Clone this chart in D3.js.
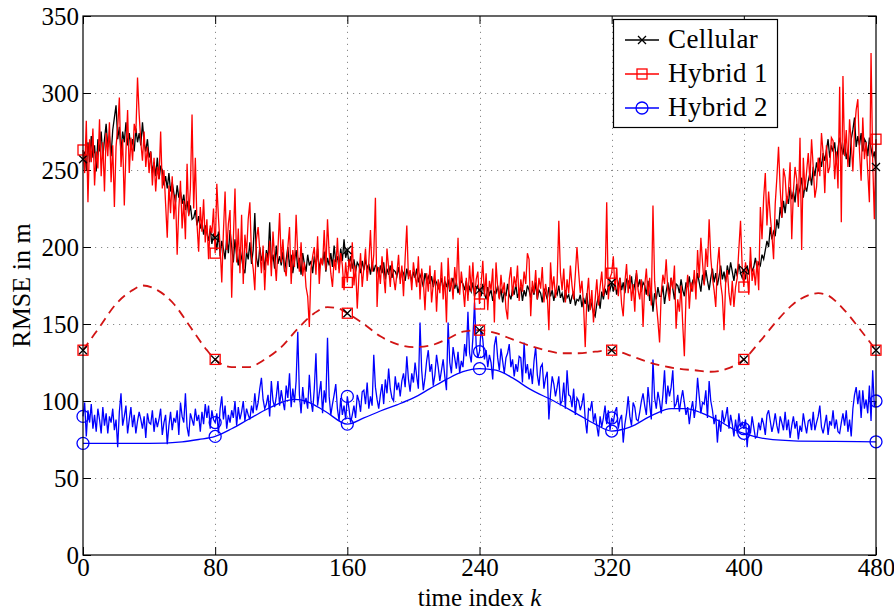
<!DOCTYPE html>
<html>
<head>
<meta charset="utf-8">
<script src="https://cdnjs.cloudflare.com/ajax/libs/d3/7.8.5/d3.min.js"></script>
<style>
	body { margin: 0; background: #fff; }
	svg text { fill: #000; }
</style>
</head>
<body>
<svg id="chart" width="894" height="610"></svg>
<script>

var kTicks = [0, 80, 160, 240, 320, 400, 480];
var yTicks = [0, 50, 100, 150, 200, 250, 300, 350];
var markerK = [0, 80, 160, 240, 320, 400, 480];

var seriesNames = ["Cellular", "Hybrid 1", "Hybrid 2"];

// RMSE per time index k = 0..480
var cellular = [
	257, 262, 250, 268, 255, 272, 258, 266, 249, 270,
	262, 275, 258, 270, 280, 265, 272, 259, 276, 284,
	292, 270, 278, 262, 275, 268, 281, 266, 274, 263,
	270, 262, 277, 268, 274, 266, 281, 268, 262, 270,
	258, 262, 248, 255, 246, 258, 244, 252, 250, 240,
	246, 238, 248, 236, 242, 235, 229, 240, 232, 236,
	228, 234, 224, 230, 221, 227, 218, 219, 224, 214,
	220, 212, 217, 208, 214, 209, 204, 212, 202, 208,
	206, 198, 210, 194, 204, 199, 192, 206, 196, 211,
	200, 190, 205, 195, 188, 199, 193, 186, 183, 197,
	192, 203, 189, 198, 222, 193, 187, 200, 191, 196,
	185, 198, 192, 216, 190, 195, 186, 201, 189, 194,
	188, 197, 184, 192, 200, 187, 195, 183, 191, 198,
	186, 193, 182, 196, 189, 184, 195, 188, 191, 183,
	194, 187, 199, 185, 192, 189, 197, 184, 193, 188,
	196, 187, 201, 190, 194, 186, 199, 191, 205, 193,
	198, 189, 194, 186, 192, 184, 190, 188, 183, 191,
	185, 192, 186, 189, 182, 190, 184, 188, 187, 181,
	188, 183, 190, 179, 186, 182, 188, 180, 185, 184,
	181, 187, 179, 185, 183, 178, 186, 181, 184, 177,
	184, 180, 186, 177, 182, 179, 174, 183, 178, 181,
	176, 181, 174, 179, 177, 173, 175, 180, 172, 178,
	174, 179, 171, 176, 180, 173, 177, 170, 175, 178,
	176, 172, 178, 169, 174, 171, 177, 168, 173, 175,
	172, 168, 176, 170, 166, 174, 169, 172, 165, 171,
	170, 175, 167, 173, 164, 171, 168, 176, 169, 166,
	173, 169, 176, 167, 171, 174, 165, 172, 168, 175,
	172, 167, 174, 169, 177, 166, 172, 170, 164, 173,
	170, 166, 174, 168, 172, 165, 171, 169, 175, 167,
	170, 164, 172, 167, 169, 163, 168, 171, 162, 166,
	165, 169, 161, 167, 163, 170, 158, 166, 162, 157,
	155, 163, 168, 160, 171, 166, 173, 169, 175, 172,
	177, 171, 178, 169, 175, 180, 172, 177, 170, 179,
	178, 173, 181, 170, 176, 183, 174, 179, 171, 177,
	175, 169, 178, 165, 172, 158, 170, 166, 174, 168,
	168, 175, 163, 171, 177, 169, 180, 173, 166, 176,
	175, 170, 179, 172, 168, 177, 174, 181, 171, 178,
	180, 174, 183, 177, 171, 182, 176, 185, 178, 172,
	180, 186, 177, 183, 175, 181, 188, 179, 184, 177,
	188, 182, 190, 184, 178, 186, 181, 189, 183, 180,
	185, 179, 188, 182, 191, 184, 187, 193, 186, 190,
	188, 195, 192, 198, 204, 200, 213, 205, 210, 207,
	218, 212, 226, 219, 230, 222, 233, 228, 239, 231,
	236, 229, 241, 234, 238, 245, 232, 240, 236, 243,
	248, 240, 252, 246, 255, 249, 258, 252, 261, 256,
	263, 270, 258, 266, 262, 268, 255, 264, 271, 265,
	260, 268, 257, 263, 252, 270, 276, 284, 265, 272,
	266, 274, 262, 270, 268, 259, 271, 264, 258, 262,
	252
];

var hybrid1 = [
	263, 248, 282, 229, 270, 255, 277, 240, 262, 251,
	283, 246, 268, 236, 274, 259, 281, 242, 266, 226,
	265, 278, 297, 252, 270, 227, 262, 289, 248, 271,
	256, 280, 274, 310, 286, 268, 256, 275, 252, 265,
	248, 262, 240, 258, 236, 252, 244, 275, 238, 250,
	228, 206, 240, 222, 246, 218, 234, 195, 225, 243,
	212, 230, 205, 254, 220, 238, 286, 225, 258, 215,
	197, 226, 210, 231, 203, 218, 192, 214, 209, 225,
	196, 241, 219, 200, 177, 210, 236, 198, 215, 224,
	167, 205, 238, 190, 212, 183, 221, 176, 208, 196,
	218, 229, 194, 186, 172, 205, 213, 198, 183, 201,
	172, 196, 188, 204, 181, 210, 192, 178, 199, 222,
	190, 205, 186, 181, 200, 213, 176, 198, 187, 221,
	195, 184, 203, 181, 190, 174, 168, 148, 186, 194,
	200, 182, 207, 176, 193, 188, 211, 185, 218, 196,
	183, 174, 192, 185, 206, 183, 196, 188, 172, 190,
	177, 192, 184, 203, 175, 188, 160, 181, 196, 174,
	186, 199, 178, 190, 211, 184, 195, 232, 161, 187,
	176, 194, 182, 170, 199, 186, 174, 191, 180, 172,
	183, 195, 176, 188, 168, 193, 214, 179, 185, 172,
	190, 181, 174, 194, 166, 186, 178, 159, 183, 171,
	188, 164, 176, 185, 158, 179, 170, 190, 166, 181,
	151, 193, 172, 180, 166, 187, 175, 206, 169, 184,
	174, 161, 180, 165, 188, 171, 190, 166, 179, 184,
	163, 176, 191, 168, 183, 159, 178, 172, 186, 151,
	190, 174, 166, 182, 170, 177, 160, 153, 179, 187,
	168, 181, 174, 188, 165, 179, 171, 184, 176, 196,
	192, 155, 178, 170, 185, 166, 180, 173, 187, 164,
	176, 169, 146, 190, 172, 181, 167, 177, 217, 183,
	172, 186, 164, 179, 170, 188, 175, 166, 182, 200,
	184, 170, 178, 162, 135, 168, 180, 159, 172, 151,
	166, 179, 162, 174, 184, 168, 176, 229, 166, 180,
	183, 194, 172, 186, 168, 180, 163, 155, 177, 189,
	170, 182, 165, 176, 158, 185, 172, 166, 179, 148,
	175, 186, 168, 180, 162, 227, 178, 164, 152, 138,
	170, 182, 176, 192, 172, 165, 180, 173, 188, 147,
	166, 158, 175, 150, 129, 168, 182, 160, 177, 171,
	185, 166, 198, 180, 206, 190, 175, 199, 187, 218,
	193, 180, 172, 161, 188, 200, 176, 168, 146, 177,
	185, 170, 162, 178, 161, 174, 180, 199, 217, 187,
	174, 190, 182, 169, 200, 178, 186, 175, 191, 172,
	226, 205, 232, 248, 214, 236, 220, 208, 192, 228,
	245, 265, 238, 219, 251, 245, 228, 236, 255, 205,
	236, 252, 244, 226, 271, 198, 258, 237, 249, 261,
	243, 270, 252, 232, 239, 258, 246, 274, 261, 235,
	266, 248, 252, 271, 269, 244, 262, 238, 304, 216,
	311, 259, 276, 252, 283, 268, 249, 276, 289, 296,
	262, 243, 284, 257, 268, 249, 229, 326, 256, 218,
	270
];

var hybrid2 = [
	90, 99, 77, 94, 86, 98, 82, 91, 80, 95,
	88, 79, 96, 84, 92, 79, 90, 86, 95, 81,
	88, 70, 93, 105, 84, 90, 97, 79, 88, 96,
	83, 91, 79, 87, 93, 88, 82, 90, 76, 92,
	86, 85, 94, 80, 89, 83, 88, 95, 78, 86,
	91, 72, 84, 93, 81, 89, 86, 94, 78, 99,
	90, 86, 105, 83, 77, 92, 88, 84, 95, 87,
	91, 80, 93, 85, 98, 89, 97, 82, 94, 88,
	86, 92, 79, 95, 103, 88, 97, 82, 91, 86,
	94, 89, 100, 84, 96, 88, 93, 100, 87, 95,
	91, 88, 97, 92, 105, 94, 99, 108, 115, 101,
	95, 98, 104, 90, 113, 100, 96, 103, 113, 97,
	107, 100, 94, 110, 102, 118, 96, 108, 99, 113,
	145, 104, 92, 109, 98, 102, 95, 117, 100, 93,
	108, 131, 97, 105, 113, 92, 107, 99, 141, 103,
	91, 98, 104, 111, 95, 87, 102, 91, 97, 88,
	103, 95, 86, 91, 97, 89, 104, 100, 93, 106,
	107, 98, 112, 95, 103, 97, 130, 109, 101, 95,
	104, 111, 98, 114, 105, 121, 108, 102, 100, 116,
	107, 112, 103, 113, 118, 109, 129, 114, 106, 118,
	112, 125, 116, 108, 151, 120, 107, 115, 126, 133,
	119, 124, 110, 117, 130, 122, 113, 120, 127, 116,
	107, 151, 125, 118, 135, 128, 121, 132, 118, 126,
	122, 137, 129, 158, 131, 125, 141, 164, 136, 128,
	132, 147, 140, 127, 133, 122, 130, 125, 114, 136,
	142, 128, 120, 134, 126, 118, 128, 131, 137, 122,
	127, 116, 124, 119, 129, 128, 112, 138, 118, 124,
	114, 121, 111, 126, 135, 117, 110, 122, 124, 108,
	115, 119, 88, 105, 116, 111, 103, 109, 116, 98,
	100, 112, 95, 120, 104, 103, 96, 108, 91, 102,
	100, 94, 98, 105, 88, 79, 95, 94, 100, 86,
	92, 84, 77, 90, 83, 89, 97, 85, 94, 81,
	89, 86, 93, 96, 82, 88, 91, 73, 85, 92,
	103, 90, 84, 99, 96, 88, 87, 93, 100, 105,
	97, 91, 109, 98, 88, 127, 102, 95, 106, 100,
	92, 104, 120, 98, 110, 103, 109, 120, 96, 98,
	104, 93, 101, 107, 99, 91, 96, 85, 94, 100,
	89, 97, 115, 103, 92, 99, 98, 107, 89, 113,
	100, 94, 85, 91, 73, 88, 80, 94, 86, 90,
	96, 82, 91, 85, 77, 88, 79, 92, 83, 86,
	82, 88, 70, 84, 79, 90, 83, 76, 77, 86,
	81, 89, 85, 78, 91, 94, 87, 80, 85, 92,
	84, 79, 90, 86, 81, 93, 81, 88, 76, 84,
	90, 82, 87, 75, 84, 80, 92, 85, 79, 87,
	88, 81, 93, 81, 86, 90, 97, 83, 79, 85,
	91, 78, 87, 84, 94, 82, 88, 80, 79, 86,
	92, 84, 94, 80, 88, 77, 95, 104, 109, 98,
	107, 89, 107, 95, 101, 92, 110, 87, 120, 96,
	100
];

// smooth bounds: dashed one (Cellular / Hybrid 1) and solid blue one (Hybrid 2)
var bound1K = [0, 10, 20, 30, 36, 45, 55, 65, 75, 80, 90, 100, 110, 120, 130, 140, 148, 155, 160, 170,
	180, 190, 200, 210, 220, 230, 240, 250, 260, 270, 280, 290, 300, 310, 320, 330, 340, 350, 360, 370,
	380, 390, 400, 410, 420, 430, 440, 445, 450, 460, 470, 480];
var bound1 = [133, 148, 163, 172, 175, 172, 163, 148, 133, 127, 122, 122, 127, 135, 147, 157, 161, 160, 157, 150,
	142, 137, 135, 136, 140, 145, 146, 144, 140, 136, 133, 131, 131, 132, 133, 130, 126, 123, 121, 120,
	119, 121, 127, 139, 152, 163, 169, 170, 169, 160, 147, 133];

var bound2K = [0, 20, 40, 60, 70, 80, 90, 100, 110, 120, 128, 136, 147, 160, 170, 180, 190, 200, 210, 220,
	230, 240, 250, 260, 270, 285, 300, 310, 320, 331, 345, 356, 365, 375, 385, 395, 400, 413, 433, 455, 480];
var bound2 = [72.5, 72.5, 72.5, 73.5, 75, 77, 82, 88, 94, 99, 101, 99.5, 93, 85, 89, 93.5, 97.5, 102, 108, 114,
	119, 121, 120, 115, 108, 100, 91, 85, 80.5, 83, 91, 95, 95, 92, 87, 81, 79, 75.5, 74, 73.8, 73.5];

var RED = "#ff0000", BLUE = "#0000ff", DRED = "#d21414";
var FONT = "'Liberation Serif', monospace";

function drawChart() {
	var svg = d3.select("#chart");
	var left = 83, right = 876, top = 16, bottom = 555;

	var x = d3.scaleLinear().domain([0, 480]).range([left, right]);
	var y = d3.scaleLinear().domain([0, 350]).range([bottom, top]);

	svg.append("rect").attr("width", 894).attr("height", 610).attr("fill", "#fff");

	// grid
	var grid = svg.append("g").attr("stroke", "#8a8a8a").attr("stroke-width", 1)
		.attr("stroke-dasharray", "1.2,4.8");
	grid.selectAll(".gx").data(kTicks.slice(1, -1)).enter().append("line")
		.attr("x1", function(d) { return Math.round(x(d)) + 0.5; })
		.attr("x2", function(d) { return Math.round(x(d)) + 0.5; })
		.attr("y1", bottom).attr("y2", top);
	grid.selectAll(".gy").data(yTicks.slice(1, -1)).enter().append("line")
		.attr("y1", function(d) { return Math.round(y(d)) + 0.5; })
		.attr("y2", function(d) { return Math.round(y(d)) + 0.5; })
		.attr("x1", left).attr("x2", right);

	// axes, ticks point inward like matlab
	var xb = d3.axisBottom(x).tickValues(kTicks).tickSizeInner(-8).tickSizeOuter(0).tickPadding(3);
	var xt = d3.axisTop(x).tickValues(kTicks).tickSizeInner(-8).tickSizeOuter(0).tickFormat("");
	var yl = d3.axisLeft(y).tickValues(yTicks).tickSizeInner(-8).tickSizeOuter(0).tickPadding(4);
	var yr = d3.axisRight(y).tickValues(yTicks).tickSizeInner(-8).tickSizeOuter(0).tickFormat("");

	function styleAxis(g) {
		g.select(".domain").remove();
		g.selectAll("line").attr("stroke", "#000");
		g.selectAll("text").style("font-family", FONT).style("font-size", "25px");
	}
	svg.append("g").attr("transform", "translate(0," + bottom + ")").call(xb).call(styleAxis);
	svg.append("g").attr("transform", "translate(0," + top + ")").call(xt).call(styleAxis);
	svg.append("g").attr("transform", "translate(" + left + ",0)").call(yl).call(styleAxis);
	svg.append("g").attr("transform", "translate(" + right + ",0)").call(yr).call(styleAxis);

	var line = d3.line()
		.x(function(d, i) { return x(i); })
		.y(function(d) { return y(d); });

	var plot = svg.append("g");
	plot.append("path").datum(cellular).attr("d", line)
		.attr("fill", "none").attr("stroke", "#000").attr("stroke-width", 1.3);
	plot.append("path").datum(hybrid1).attr("d", line)
		.attr("fill", "none").attr("stroke", RED).attr("stroke-width", 1.3);
	plot.append("path").datum(hybrid2).attr("d", line)
		.attr("fill", "none").attr("stroke", BLUE).attr("stroke-width", 1.3);

	var smooth = d3.line()
		.x(function(d) { return x(d[0]); })
		.y(function(d) { return y(d[1]); })
		.curve(d3.curveMonotoneX);

	var b1 = d3.zip(bound1K, bound1);
	var b2 = d3.zip(bound2K, bound2);
	plot.append("path").datum(b1).attr("d", smooth)
		.attr("fill", "none").attr("stroke", DRED).attr("stroke-width", 1.8)
		.attr("stroke-dasharray", "9,6");
	plot.append("path").datum(b2).attr("d", smooth)
		.attr("fill", "none").attr("stroke", BLUE).attr("stroke-width", 1.3);

	// markers
	function cross(g, cx, cy, color) {
		var s = 4;
		g.append("path")
			.attr("d", "M" + (cx - s) + "," + (cy - s) + "L" + (cx + s) + "," + (cy + s) +
				"M" + (cx - s) + "," + (cy + s) + "L" + (cx + s) + "," + (cy - s))
			.attr("stroke", color).attr("stroke-width", 1.3).attr("fill", "none");
	}
	function square(g, cx, cy, color) {
		g.append("rect").attr("x", cx - 5).attr("y", cy - 5).attr("width", 10).attr("height", 10)
			.attr("fill", "none").attr("stroke", color).attr("stroke-width", 1.3);
	}
	function circle(g, cx, cy, color) {
		g.append("circle").attr("cx", cx).attr("cy", cy).attr("r", 6)
			.attr("fill", "none").attr("stroke", color).attr("stroke-width", 1.3);
	}

	var mk = svg.append("g");
	markerK.forEach(function(k) {
		var j1 = bound1K.indexOf(k), j2 = bound2K.indexOf(k);
		square(mk, x(k), y(bound1[j1]), RED);
		cross(mk, x(k), y(bound1[j1]), "#000");
		circle(mk, x(k), y(bound2[j2]), BLUE);
		cross(mk, x(k), y(cellular[k]), "#000");
		square(mk, x(k), y(hybrid1[k]), RED);
		circle(mk, x(k), y(hybrid2[k]), BLUE);
	});

	// frame
	svg.append("rect").attr("x", left).attr("y", top).attr("width", right - left).attr("height", bottom - top)
		.attr("fill", "none").attr("stroke", "#000").attr("stroke-width", 1.2);

	// axis labels
	var xl = svg.append("text").attr("x", (left + right) / 2).attr("y", 606)
		.attr("text-anchor", "middle").style("font-family", FONT).style("font-size", "25px");
	xl.append("tspan").text("time index ");
	xl.append("tspan").attr("font-style", "italic").text("k");

	svg.append("text").attr("transform", "translate(30," + ((top + bottom) / 2) + ") rotate(-90)")
		.attr("text-anchor", "middle").style("font-family", FONT).style("font-size", "26px").text("RMSE in m");

	// legend
	var lg = svg.append("g");
	lg.append("rect").attr("x", 613.5).attr("y", 19.5).attr("width", 164).attr("height", 108)
		.attr("fill", "#fff").attr("stroke", "#000").attr("stroke-width", 1.2);
	var colors = ["#000", RED, BLUE];
	var markFn = [cross, square, circle];
	seriesNames.forEach(function(name, i) {
		var ly = 40 + i * 34;
		lg.append("line").attr("x1", 625).attr("x2", 659).attr("y1", ly).attr("y2", ly)
			.attr("stroke", colors[i]).attr("stroke-width", 1.3);
		markFn[i](lg, 642, ly, colors[i]);
		lg.append("text").attr("x", 668).attr("y", ly + 8)
			.style("font-family", FONT).style("font-size", "27px").style("letter-spacing", "0.4px")
			.text(name);
	});
}

drawChart();
</script>
</body>
</html>
